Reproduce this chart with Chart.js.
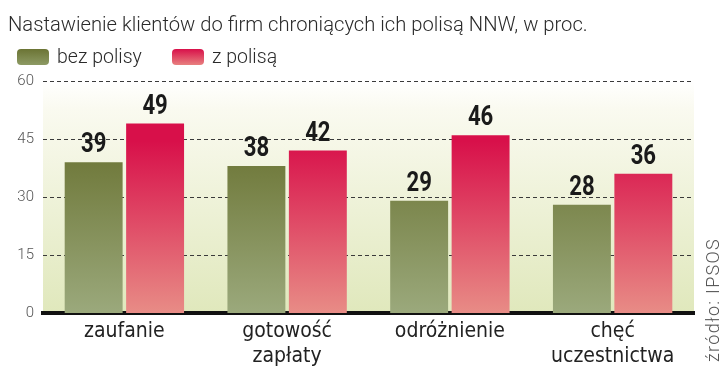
<!DOCTYPE html>
<html><head><meta charset="utf-8">
<script src="https://cdn.jsdelivr.net/npm/chart.js@4/dist/chart.umd.min.js"></script>
<style>
html,body{margin:0;padding:0;background:#fff;width:720px;height:383px;overflow:hidden;}
#wrap{position:relative;width:720px;height:383px;}
canvas{position:absolute;left:0;top:0;}
#title{position:absolute;left:8px;top:12px;font-family:Roboto,"Open Sans",sans-serif;font-weight:300;font-size:20.2px;color:#2a2a2a;white-space:nowrap;}
.leg{position:absolute;top:45px;font-family:Roboto,sans-serif;font-weight:300;font-size:19.5px;color:#2a2a2a;white-space:nowrap;}
.sw{display:inline-block;width:32px;height:16px;border-radius:4px;vertical-align:-2px;margin-right:8px;}
#src{position:absolute;left:702px;top:362px;transform-origin:0 0;transform:rotate(-90deg);font-family:Roboto,sans-serif;font-weight:300;font-size:18px;letter-spacing:1.3px;color:#555;white-space:nowrap;}
</style></head>
<body><div id="wrap">
<canvas id="c" width="720" height="383"></canvas>
<div id="title">Nastawienie klientów do firm chroniących ich polisą NNW, w proc.</div>
<div class="leg" style="left:17px"><span class="sw" style="background:linear-gradient(#6b7434,#8d9a64)"></span>bez polisy</div>
<div class="leg" style="left:172px"><span class="sw" style="background:linear-gradient(#d8104a,#e8807f)"></span>z polisą</div>
<div id="src">źródło: IPSOS</div>
</div>
<script>
const categories = [["zaufanie"], ["gotowość","zapłaty"], ["odróżnienie"], ["chęć","uczestnictwa"]];
const seriesNames = ["bez polisy", "z polisą"];
const bezPolisy = [39, 38, 29, 28];
const zPolisa = [49, 42, 46, 36];
const yTicks = [0, 15, 30, 45, 60];

const COND = '"Liberation Sans Narrow", "DejaVu Sans Condensed", "Roboto Condensed", sans-serif';

function grad(ctx, chart, top, bottom) {
  const a = chart.chartArea;
  if (!a) return top;
  const g = ctx.createLinearGradient(0, a.top + 60, 0, a.bottom);
  g.addColorStop(0, top);
  g.addColorStop(1, bottom);
  return g;
}

const bgPlugin = {
  id: 'bg',
  beforeDraw(chart) {
    const {ctx, chartArea: a} = chart;
    const g = ctx.createLinearGradient(0, a.top, 0, a.bottom);
    g.addColorStop(0, '#ffffff');
    g.addColorStop(0.12, '#fafaf0');
    g.addColorStop(1, '#e0e8bc');
    ctx.save();
    ctx.fillStyle = g;
    ctx.fillRect(a.left, a.top, a.right - a.left, a.bottom - a.top);
    ctx.restore();
  },
  beforeDatasetsDraw(chart) {
    const {ctx, chartArea: a} = chart;
    const y = chart.scales.y;
    ctx.save();
    ctx.strokeStyle = '#3a3a3a';
    ctx.lineWidth = 1.2;
    ctx.setLineDash([4, 3]);
    yTicks.forEach(v => {
      if (v === 0) return;
      const py = Math.round(y.getPixelForValue(v)) + 0.5;
      ctx.beginPath();
      ctx.moveTo(a.left, py);
      ctx.lineTo(a.right, py);
      ctx.stroke();
    });
    ctx.restore();
  }
};

const valuePlugin = {
  id: 'vals',
  afterDatasetsDraw(chart) {
    const ctx = chart.ctx;
    chart.data.datasets.forEach((ds, i) => {
      chart.getDatasetMeta(i).data.forEach((bar, j) => {
        ctx.save();
        ctx.translate(bar.x, bar.y - 10);
        ctx.scale(0.82, 1);
        ctx.font = 'bold 27px Roboto, sans-serif';
        ctx.fillStyle = '#1a1a1a';
        ctx.textAlign = 'center';
        ctx.textBaseline = 'alphabetic';
        ctx.fillText(String(ds.data[j]), 0, 0);
        ctx.restore();
      });
    });
  }
};

new Chart(document.getElementById('c'), {
  type: 'bar',
  data: {
    labels: categories,
    datasets: [
      { label: seriesNames[0], data: bezPolisy,
        backgroundColor: c => grad(c.chart.ctx, c.chart, '#6b7434', '#9ba97c') },
      { label: seriesNames[1], data: zPolisa,
        backgroundColor: c => grad(c.chart.ctx, c.chart, '#d8104a', '#e88c86') }
    ]
  },
  options: {
    responsive: false,
    animation: false,
    events: [],
    layout: { padding: { top: 81, right: 26, left: 0, bottom: 0 } },
    datasets: { bar: { categoryPercentage: 0.755, barPercentage: 0.943 } },
    plugins: { legend: { display: false }, tooltip: { enabled: false }, title: { display: false } },
    scales: {
      x: {
        grid: { display: false, drawTicks: false },
        border: { display: true, color: '#111', width: 4 },
        ticks: { color: '#222', font: { family: COND, size: 21 }, padding: 6, maxRotation: 0, autoSkip: false },
        afterFit: s => { s.height = 70; }
      },
      y: {
        min: 0, max: 60,
        afterBuildTicks: s => { s.ticks = yTicks.map(v => ({ value: v })); },
        grid: { display: false, drawTicks: false },
        border: { display: false },
        ticks: { color: '#555', font: { family: 'Roboto', weight: 300, size: 15 }, padding: 9 },
        afterFit: s => { s.width = 43; }
      }
    }
  },
  plugins: [bgPlugin, valuePlugin]
});
</script>
</body></html>
